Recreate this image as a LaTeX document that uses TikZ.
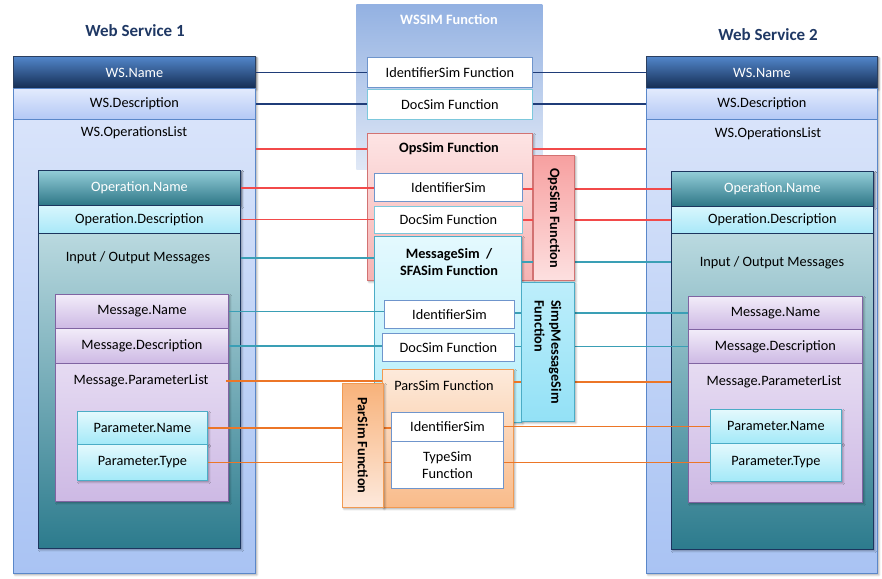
\documentclass[tikz,border=0pt]{standalone}
\usepackage{fontspec}
\setmainfont{Carlito}
\usetikzlibrary{shadows.blur,calc}
\definecolor{wsnameT}{HTML}{5286CA}
\definecolor{wsnameD}{HTML}{142C52}
\definecolor{wsnameB}{HTML}{2B3F5F}
\definecolor{wsdescT}{HTML}{E3EBFD}
\definecolor{wsdescD}{HTML}{B3C8F5}
\definecolor{wsB}{HTML}{5A87C9}
\definecolor{wsbodyT}{HTML}{DFE8FB}
\definecolor{wsbodyD}{HTML}{A9C3F3}
\definecolor{opnameT}{HTML}{93CDD8}
\definecolor{opnameD}{HTML}{2D7686}
\definecolor{opB}{HTML}{1C355E}
\definecolor{opdescT}{HTML}{D8F6FD}
\definecolor{opdescD}{HTML}{A8E8F8}
\definecolor{opbodyT}{HTML}{D6ECF0}
\definecolor{opbodyM}{HTML}{4DA9C2}
\definecolor{opbodyD}{HTML}{2C7B8D}
\definecolor{msgT}{HTML}{F2ECF9}
\definecolor{msgD}{HTML}{CDB9E4}
\definecolor{msgB}{HTML}{8064A2}
\definecolor{parT}{HTML}{E4F9FD}
\definecolor{parD}{HTML}{A3E9F8}
\definecolor{parB}{HTML}{4BACC6}
\definecolor{wssimT}{HTML}{93B1E2}
\definecolor{wssimD}{HTML}{E0E8F6}
\definecolor{idB}{HTML}{6F95CC}
\definecolor{docB}{HTML}{7CC8DC}
\definecolor{opsT}{HTML}{FDE4E4}
\definecolor{opsD}{HTML}{F6B3B3}
\definecolor{opsB}{HTML}{D27272}
\definecolor{opsVT}{HTML}{F7A0A0}
\definecolor{opsVD}{HTML}{FDE0E0}
\definecolor{smT}{HTML}{E4F9FE}
\definecolor{smD}{HTML}{B3EEFB}
\definecolor{smVT}{HTML}{BDEEFB}
\definecolor{smVD}{HTML}{93E1F6}
\definecolor{psT}{HTML}{FDEADB}
\definecolor{psD}{HTML}{F9BB8A}
\definecolor{psB}{HTML}{F19A52}
\definecolor{psVT}{HTML}{F8B27A}
\definecolor{psVD}{HTML}{FDE9DC}
\definecolor{titleC}{HTML}{1F3864}
\definecolor{lnavy}{HTML}{1F3C78}
\definecolor{lred}{HTML}{F24A4A}
\definecolor{lteal}{HTML}{3A9FB5}
\definecolor{lorange}{HTML}{EC7627}
\newcommand\fs{\fontsize{14.3}{16.8}\selectfont}
\newcommand\mybox[7]{\node[#1, minimum width={#5-#3}, minimum height={#6-#4}] (#2) at (#3,-#4) {#7};}
\newcommand\mytext[4]{\node[#1] (#2) at (#3,-#4)}
\tikzset{
  base/.style={draw, rectangle, inner sep=0pt, anchor=north west, line width=0.9pt, align=center, font=\fs},
  shad/.style={blur shadow={shadow xshift=1.5pt, shadow yshift=-1.5pt, shadow blur steps=4, shadow opacity=35}},
  wsname/.style={base, shad, draw=wsnameB, top color=wsnameT, bottom color=wsnameD, text=white},
  wsdesc/.style={base, draw=wsB, top color=wsdescT, bottom color=wsdescD},
  wsbody/.style={base, shad, draw=wsB, top color=wsbodyT, bottom color=wsbodyD},
  opname/.style={base, shad, draw=opB, top color=opnameT, bottom color=opnameD, text=white},
  opdesc/.style={base, draw=opB, top color=opdescT, bottom color=opdescD},
  opbody/.style={base, shad, draw=opB, top color=opbodyT, middle color=opbodyM, bottom color=opbodyD},
  msgbox/.style={base, draw=msgB, top color=msgT, bottom color=msgD},
  msgbody/.style={base, shad, draw=msgB, top color=msgT, bottom color=msgD},
  parbox/.style={base, shad, draw=parB, top color=parT, bottom color=parD},
  panel/.style={base, draw=none, top color=wssimT, bottom color=wssimD},
  idbox/.style={base, draw=idB, fill=white},
  docbox/.style={base, draw=docB, fill=white},
  opsbox/.style={base, shad, draw=opsB, top color=opsT, bottom color=opsD},
  opsvbox/.style={base, shad, draw=opsB, top color=opsVT, bottom color=opsVD},
  smbox/.style={base, shad, draw=parB, top color=smT, bottom color=smD},
  smvbox/.style={base, shad, draw=parB, top color=smVT, bottom color=smVD},
  psbox/.style={base, shad, draw=psB, top color=psT, bottom color=psD},
  psvbox/.style={base, shad, draw=psB, top color=psVT, bottom color=psVD},
  lbl/.style={inner sep=0pt, font=\fs, align=center},
  blbl/.style={inner sep=0pt, font=\fs\bfseries, align=center},
  vlbl/.style={inner sep=0pt, font=\fs\bfseries, rotate=-90},
  ttl/.style={inner sep=0pt, font=\fontsize{17}{20}\selectfont\bfseries, text=titleC},
  ln/.style={line width=1.6pt},
  navyln/.style={ln, draw=lnavy},
  redln/.style={ln, draw=lred},
  tealln/.style={ln, draw=lteal},
  orangeln/.style={ln, draw=lorange}
}
\begin{document}
\begin{tikzpicture}[x=1pt,y=1pt]
\useasboundingbox (0,0) rectangle (882,-578);
% Web Service 1
\mytext{ttl}{t1}{135}{31} {Web Service 1};
\mybox{wsbody}{ws1}{13}{56}{255}{573}{}
\mybox{wsname}{ws1name}{13}{56}{255}{88}{WS.Name}
\mybox{wsdesc}{ws1desc}{13}{88}{255}{119}{WS.Description}
\mytext{lbl}{ws1ol}{134}{133} {WS.OperationsList};
\mybox{opbody}{ws1op}{38}{170}{240}{548}{}
\mybox{opname}{ws1opname}{38}{170}{240}{205}{Operation.Name}
\mybox{opdesc}{ws1opdesc}{38}{205}{240}{233}{Operation.Description}
\mytext{lbl}{ws1io}{138}{258} {Input / Output Messages};
\mybox{msgbody}{ws1msg}{55}{294}{228}{501}{}
\mybox{msgbox}{ws1msgname}{55}{294}{228}{328}{Message.Name}
\mybox{msgbox}{ws1msgdesc}{55}{328}{228}{363}{Message.Description}
\mytext{lbl}{ws1pl}{141}{381} {Message.ParameterList};
\mybox{parbox}{ws1pname}{77}{411}{207}{444}{Parameter.Name}
\mybox{parbox}{ws1ptype}{77}{444}{207}{480}{Parameter.Type}
% Web Service 2
\mytext{ttl}{t2}{768}{35} {Web Service 2};
\mybox{wsbody}{ws2}{646}{56}{877}{573}{}
\mybox{wsname}{ws2name}{646}{56}{877}{88}{WS.Name}
\mybox{wsdesc}{ws2desc}{646}{88}{877}{119}{WS.Description}
\mytext{lbl}{ws2ol}{768}{134} {WS.OperationsList};
\mybox{opbody}{ws2op}{671}{171}{873}{549}{}
\mybox{opname}{ws2opname}{671}{171}{873}{206}{Operation.Name}
\mybox{opdesc}{ws2opdesc}{671}{206}{873}{233}{Operation.Description}
\mytext{lbl}{ws2io}{772}{263} {Input / Output Messages};
\mybox{msgbody}{ws2msg}{688}{296}{862}{502}{}
\mybox{msgbox}{ws2msgname}{688}{296}{862}{329}{Message.Name}
\mybox{msgbox}{ws2msgdesc}{688}{329}{862}{363}{Message.Description}
\mytext{lbl}{ws2pl}{774}{382} {Message.ParameterList};
\mybox{parbox}{ws2pname}{710}{409}{841}{443}{Parameter.Name}
\mybox{parbox}{ws2ptype}{710}{443}{841}{481}{Parameter.Type}
% middle containers
\mybox{panel}{wssim}{356}{4}{542}{169}{}
\mytext{blbl, text=white}{wssimt}{449}{20} {WSSIM Function};
\mybox{opsbox}{opssim}{367}{133}{532}{280}{}
\mytext{blbl}{opst}{449}{149} {OpsSim Function};
\mybox{smbox}{msgsim}{374}{236}{521}{422}{}
\mytext{blbl}{msgsimt}{449}{262} {MessageSim\ \ /\\SFASim Function};
\mybox{psbox}{parssim}{382}{369}{513}{507}{}
\mytext{lbl}{parssimt}{444}{386} {ParsSim Function};
% inner function boxes
\mybox{idbox}{idsimf}{367}{57}{532}{87}{IdentifierSim Function}
\mybox{docbox}{docsimf}{367}{89}{532}{119}{DocSim Function}
\mybox{idbox}{opsid}{374}{173}{522}{201}{IdentifierSim}
\mybox{docbox}{opsdoc}{374}{206}{522}{233}{DocSim Function}
\mybox{idbox}{msid}{384}{300}{514}{328}{IdentifierSim}
\mybox{idbox}{msdoc}{382}{333}{514}{361}{DocSim Function}
\mybox{idbox}{psid}{391}{412}{503}{441}{IdentifierSim}
\mybox{idbox}{pstype}{391}{441}{503}{488}{TypeSim\\Function}
% connectors
\draw[navyln] (ws1name.east) -- (idsimf.west |- ws1name.east);
\draw[navyln] (idsimf.east |- ws2name.west) -- (ws2name.west);
\draw[navyln] (ws1desc.east) -- (docsimf.west |- ws1desc.east);
\draw[navyln] (docsimf.east |- ws2desc.west) -- (ws2desc.west);
\draw[redln] (ws1.east |- opst) -- (opssim.west |- opst);
\draw[redln] (opssim.east |- opst) -- (ws2.west |- opst);
\draw[redln] (ws1opname.east) -- (opsid.west |- ws1opname.east);
\draw[redln] (opsid.east |- ws2opname.west) -- (ws2opname.west);
\draw[redln] (ws1opdesc.east) -- (opsdoc.west |- ws1opdesc.east);
\draw[redln] (opsdoc.east |- ws2opdesc.west) -- (ws2opdesc.west);
\draw[tealln] (ws1op.east |- ws1io) -- (msgsim.west |- ws1io);
\draw[tealln] ([yshift=1pt]msgsim.east |- ws2io) -- ([yshift=1pt]ws2op.west |- ws2io);
\draw[tealln] (ws1msgname.east) -- (msid.west |- ws1msgname.east);
\draw[tealln] (msid.east |- ws2msgname.west) -- (ws2msgname.west);
\draw[tealln] (ws1msgdesc.east) -- (msdoc.west |- ws1msgdesc.east);
\draw[tealln] (msdoc.east |- ws2msgdesc.west) -- (ws2msgdesc.west);
\draw[orangeln] ([xshift=-3pt]ws1msg.east |- ws1pl) -- (parssim.west |- ws1pl);
\draw[orangeln] (parssim.east |- ws2pl) -- (ws2op.west |- ws2pl);
\draw[orangeln] (ws1pname.east) -- (psid.west |- ws1pname.east);
\draw[orangeln] (psid.east |- ws2pname.west) -- (ws2pname.west);
\draw[orangeln] (ws1ptype.east) -- (pstype.west |- ws1ptype.east);
\draw[orangeln] (pstype.east |- ws2ptype.west) -- (ws2ptype.west);
% vertical function boxes (on top of the connectors)
\mybox{opsvbox}{opsv}{533}{155}{574}{280}{}
\node[vlbl] (opsvt) at (opsv.center) {OpsSim Function};
\mybox{smvbox}{smv}{521}{282}{574}{421}{}
\node[vlbl, align=left] (smvt) at (smv.center) {SimpMessageSim\\Function};
\mybox{psvbox}{parv}{342}{383}{383}{507}{}
\node[vlbl] (parvt) at (parv.center) {ParSim Function};
\end{tikzpicture}
\end{document}
